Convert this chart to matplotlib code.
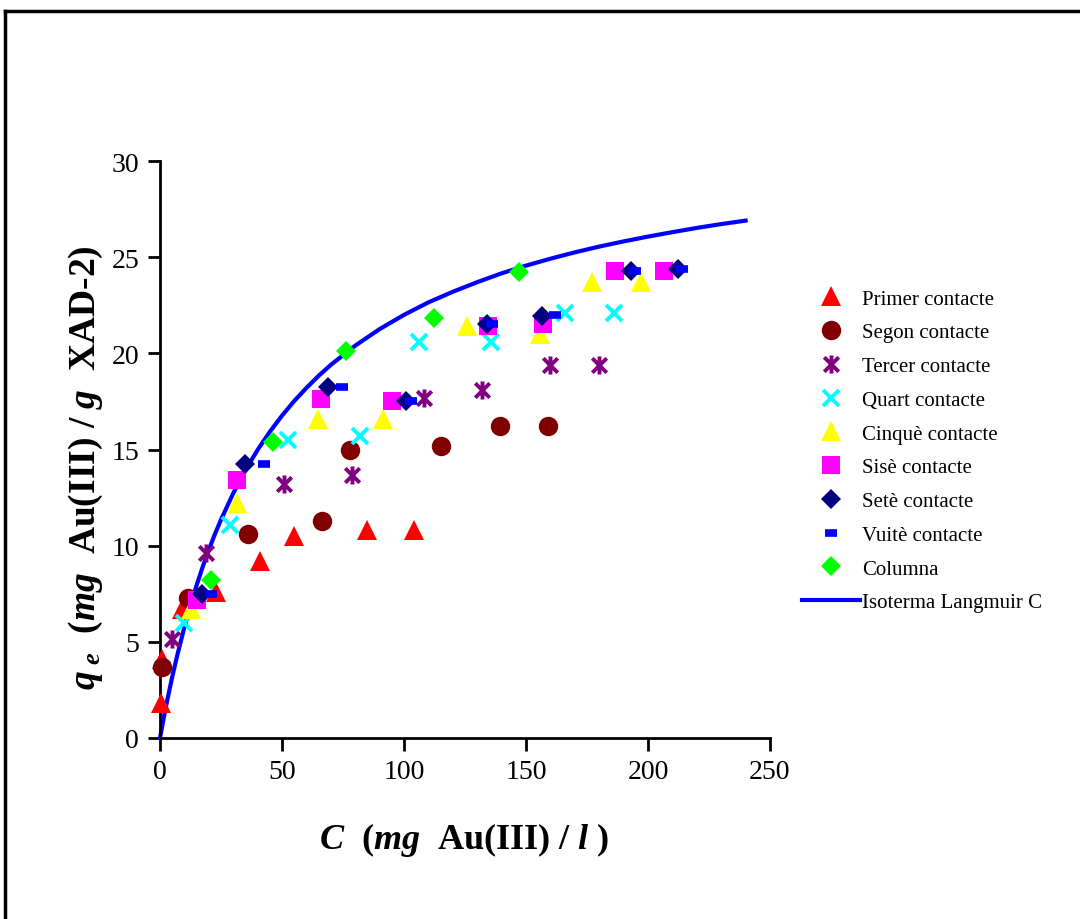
import numpy as np
import matplotlib
matplotlib.use('Agg')
import matplotlib.pyplot as plt
from matplotlib.path import Path
from matplotlib.lines import Line2D

plt.rcParams['font.family'] = ['Liberation Serif', 'DejaVu Serif']
plt.rcParams['mathtext.fontset'] = 'custom'
plt.rcParams['mathtext.rm'] = 'Liberation Serif:bold'
plt.rcParams['mathtext.it'] = 'Liberation Serif:italic:bold'
plt.rcParams['mathtext.bf'] = 'Liberation Serif:bold'

# data: C (mg/l), q (mg/g)
primer_c = [0.5, 1, 9, 23, 41, 55, 85, 104]
primer_q = [1.8, 4.1, 6.7, 7.6, 9.2, 10.5, 10.8, 10.8]
segon_c = [1, 11.5, 36, 66.5, 78, 115, 139.5, 159]
segon_q = [3.7, 7.3, 10.6, 11.3, 15.0, 15.2, 16.2, 16.2]
tercer_c = [5, 19, 51, 78.5, 108, 132, 160, 180]
tercer_q = [5.15, 9.6, 13.2, 13.7, 17.7, 18.1, 19.4, 19.4]
quart_c = [10, 28.5, 52.5, 82, 106, 135.5, 166, 186]
quart_q = [6.0, 11.1, 15.5, 15.7, 20.6, 20.6, 22.1, 22.1]
cinque_c = [12.7, 31.5, 64.6, 91.4, 125.7, 155.7, 177, 197]
cinque_q = [6.7, 12.2, 16.6, 16.6, 21.4, 21.0, 23.7, 23.7]
sise_c = [15, 31.5, 66, 95, 134.5, 157, 186.5, 206.5]
sise_q = [7.2, 13.4, 17.6, 17.5, 21.4, 21.5, 24.3, 24.3]
sete_c = [17.2, 34.8, 69, 100.8, 134, 156.5, 193, 212.3]
sete_q = [7.5, 14.25, 18.25, 17.5, 21.5, 21.95, 24.3, 24.4]
vuite_c = [21, 42.6, 74.5, 103, 136, 162, 194.7, 214]
vuite_q = [7.5, 14.25, 18.25, 17.5, 21.5, 22.0, 24.3, 24.4]
columna_c = [21, 46.4, 76.2, 112.3, 147]
columna_q = [8.2, 15.4, 20.1, 21.85, 24.25]
lang_c = [0, 1, 2, 3, 5, 7, 10, 12.5, 15, 17.5, 20, 22.5, 25, 30, 35, 40, 45, 50,
          55, 60, 65, 70, 80, 90, 100, 110, 120, 130, 140, 150, 160, 170, 180,
          190, 200, 210, 220, 230, 240]
lang_q = [0, 0.68, 1.35, 1.98, 3.17, 4.26, 5.77, 6.9, 7.94, 8.9, 9.78, 10.6,
          11.35, 12.72, 13.92, 14.98, 15.92, 16.76, 17.52, 18.2, 18.83, 19.4,
          20.4, 21.26, 22.0, 22.65, 23.2, 23.7, 24.16, 24.56, 24.92, 25.25,
          25.55, 25.82, 26.07, 26.3, 26.52, 26.72, 26.9]

# asterisk marker (x with a vertical bar)
ast = Path([(-1, -1), (1, 1), (-1, 1), (1, -1), (0, -1.25), (0, 1.25)],
           [Path.MOVETO, Path.LINETO, Path.MOVETO, Path.LINETO, Path.MOVETO, Path.LINETO])

fig = plt.figure(figsize=(10.8, 9.2), dpi=100)
ax = fig.add_axes([160/1080, 1-739/920, 610/1080, 577/920])

kw = dict(ls='none', clip_on=False, zorder=3)
ax.plot(lang_c, lang_q, color='#0000FF', lw=3, zorder=2, clip_on=False)
h1, = ax.plot(primer_c, primer_q, marker='^', color='#FF0000', ms=14, mew=0, label='Primer contacte', **kw)
h2, = ax.plot(segon_c, segon_q, marker='o', color='#800000', ms=14, mew=0, label='Segon contacte', **kw)
h3, = ax.plot(tercer_c, tercer_q, marker=ast, color='#800080', mfc='none', ms=13, mew=2.8, label='Tercer contacte', **kw)
h4, = ax.plot(quart_c, quart_q, marker='x', color='#00FFFF', ms=12, mew=2.8, label='Quart contacte', **kw)
h5, = ax.plot(cinque_c, cinque_q, marker='^', color='#FFFF00', ms=14, mew=0, label='Cinquè contacte', **kw)
h6, = ax.plot(sise_c, sise_q, marker='s', color='#FF00FF', ms=12.5, mew=0, label='Sisè contacte', **kw)
h7, = ax.plot(sete_c, sete_q, marker='D', color='#000080', ms=10.5, mew=0, label='Setè contacte', **kw)
h8, = ax.plot(vuite_c, vuite_q, marker='_', color='#0000FF', ms=9, mew=5.5, label='Vuitè contacte', **kw)
h9, = ax.plot(columna_c, columna_q, marker='D', color='#00FF00', ms=10.5, mew=0, label='Columna', **kw)
hl = Line2D([], [], color='#0000FF', lw=3, label='Isoterma Langmuir C')

ax.set_xlim(0, 250)
ax.set_ylim(0, 30)
ax.set_xticks([0, 50, 100, 150, 200, 250])
ax.set_yticks([0, 5, 10, 15, 20, 25, 30])
for s in ['top', 'right']:
    ax.spines[s].set_visible(False)
for s in ['left', 'bottom']:
    ax.spines[s].set_linewidth(2)
ax.tick_params(direction='out', length=9, width=2, labelsize=20, pad=6)

fig.text(464/1080, 1-840/920, r'$C$  ($mg$  Au(III) / $l$ )', fontsize=26,
         fontweight='bold', ha='center', va='center')
fig.text(86/1080, 1-468/920, r'$q_{\ e}$  ($mg$  Au(III) / $g$  XAD-2)', fontsize=27,
         fontweight='bold', ha='center', va='center', rotation=90)

ax.legend(handles=[h1, h2, h3, h4, h5, h6, h7, h8, h9, hl], loc='upper left',
          bbox_to_anchor=(802/1080, 1-290/920), bbox_transform=fig.transFigure,
          frameon=False, fontsize=15, numpoints=1, handlelength=2.8,
          handletextpad=0.1, labelspacing=0.68, borderpad=0, borderaxespad=0)

# outer frame (cut off on the right and bottom)
fig.add_artist(Line2D([5/1080, 5/1080], [-0.05, 1-12/920], color='black', lw=2.5, transform=fig.transFigure))
fig.add_artist(Line2D([5/1080, 1.05], [1-12/920, 1-12/920], color='black', lw=2.5, transform=fig.transFigure))

plt.savefig('out.png', dpi=100)
